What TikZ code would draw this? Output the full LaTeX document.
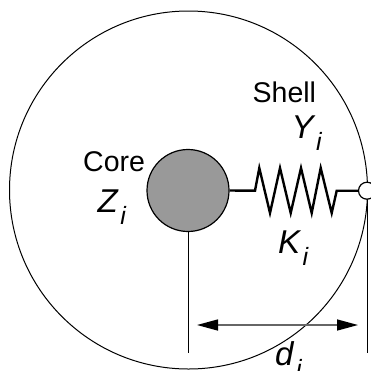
\documentclass[tikz,border=0pt]{standalone}
\usepackage{fontspec}
\setmainfont{Liberation Sans}
\usetikzlibrary{arrows.meta}
\newcommand{\symb}[2]{\fontsize{33}{33}\selectfont\itshape #1\hspace{2.5pt}\raisebox{-12pt}{\fontsize{25}{25}\selectfont #2}}
\tikzset{
  x=1pt,y=-1pt,
  thin line/.style={draw=black,line width=1pt},
  thick line/.style={draw=black,line width=2.4pt,line join=miter},
  lbl/.style={inner sep=0pt,font=\fontsize{28.5}{28.5}\selectfont},
  sym/.style={inner sep=0pt,anchor=base west},
}
\begin{document}
\begin{tikzpicture}
\useasboundingbox (0,0) rectangle (371,370);
\clip (0,0) rectangle (371,370);
\node[circle,thin line,fill=none,minimum size=358pt,inner sep=0pt] (outer) at (188.5,190) {};
\coordinate (downL) at (188,353);
\coordinate (downR) at (367,353);
\node[circle,draw=black,line width=1.2pt,fill=white,minimum size=17pt,inner sep=0pt] (bead) at (367,190.7) {};
\node[circle,draw=black,line width=1.2pt,fill=black!40,minimum size=82pt,inner sep=0pt] (core) at (188,190.5) {};
\draw[thin line] (core.south) -- (downL);
\draw[thin line] (bead.south) -- (downR);
\draw[thick line] (core.east) -- (255,190.7) -- (259.3,168) -- (270,213) -- (280,168) -- (290.7,213) -- (301,168) -- (311.7,213) -- (320.7,168) -- (331.7,213) -- (336.7,190.7) -- (bead.west);
\coordinate (arrL) at (197,325);
\coordinate (arrR) at (358,325);
\draw[draw=black!60,line width=1.5pt,{Triangle[black,length=21pt,width=11pt]}-{Triangle[black,length=21pt,width=11pt]}] (arrL) -- (arrR);
\node[lbl,anchor=base west] (shell) at (252.5,102) {Shell};
\node[lbl,anchor=base west] (corel) at (83,171) {Core};
\node[sym] (y) at (291.5,138) {\symb{Y}{i}};
\node[sym] (z) at (97.5,212) {\symb{Z}{i}};
\node[sym] (k) at (278,253) {\symb{K}{i}};
\node[sym] (d) at (275,365) {\symb{d}{i}};
\end{tikzpicture}
\end{document}
